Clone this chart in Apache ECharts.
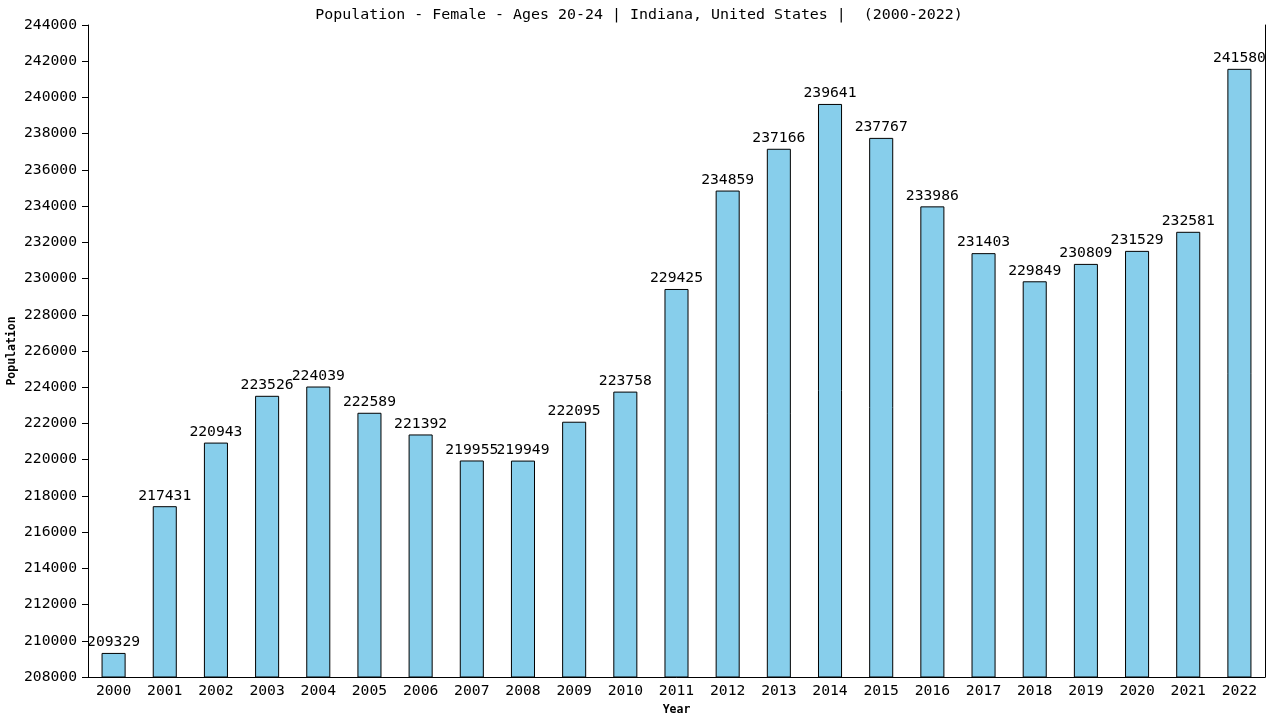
<!DOCTYPE html>
<html><head><meta charset="utf-8">
<script src="https://cdn.jsdelivr.net/npm/echarts@6/dist/echarts.min.js"></script>
<style>html,body{margin:0;padding:0;background:#fff}#c{width:1280px;height:720px}</style>
</head><body><div id="c"></div>
<script>
const years = ['2000','2001','2002','2003','2004','2005','2006','2007','2008','2009','2010','2011','2012','2013','2014','2015','2016','2017','2018','2019','2020','2021','2022'];
const population = [209329,217431,220943,223526,224039,222589,221392,219955,219949,222095,223758,229425,234859,237166,239641,237767,233986,231403,229849,230809,231529,232581,241580];
const titleText = 'Population - Female - Ages 20-24 | Indiana, United States |  (2000-2022)';
const font = 'DejaVu Sans Mono';
const fs = 14.7;
const chart = echarts.init(document.getElementById('c'));
chart.setOption({
  animation:false,
  title:{text:titleText,left:634,top:3,textAlign:'center',textStyle:{fontFamily:font,fontSize:14.95,fontWeight:'normal',color:'#000'}},
  grid:{left:88,right:15,top:25,bottom:43,outerBoundsMode:'none',containLabel:false},
  xAxis:{type:'category',data:years,name:'Year',nameLocation:'middle',nameGap:27,nameMoveOverlap:false,
    nameTextStyle:{fontFamily:font,fontSize:11.5,fontWeight:'bold',color:'#000'},
    axisLine:{lineStyle:{color:'#000',width:1}},axisTick:{show:false},
    axisLabel:{fontFamily:font,fontSize:fs,color:'#000',margin:7}},
  yAxis:[{type:'value',min:208000,max:244000,interval:2000,name:'Population',nameLocation:'middle',nameGap:70,nameMoveOverlap:false,
    nameTextStyle:{fontFamily:font,fontSize:11.5,fontWeight:'bold',color:'#000'},
    axisLine:{show:true,lineStyle:{color:'#000'}},axisTick:{show:true,length:6,lineStyle:{color:'#000'}},
    splitLine:{show:false},axisLabel:{fontFamily:font,fontSize:fs,color:'#000',margin:11,formatter:v=>String(v)}},
    {type:'value',min:208000,max:244000,position:'right',axisLine:{show:true,lineStyle:{color:'#000'}},axisTick:{show:false},axisLabel:{show:false},splitLine:{show:false}}],
  series:[{type:'bar',data:population,barWidth:'47%',
    itemStyle:{color:'#87CEEB',borderColor:'#000',borderWidth:1},
    label:{show:true,position:'top',distance:3,fontFamily:font,fontSize:fs,color:'#000'}}]
});
</script></body></html>
